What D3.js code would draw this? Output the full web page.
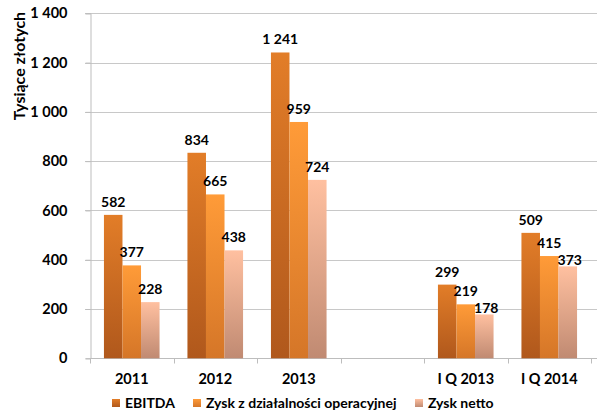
<!DOCTYPE html>
<html><head><meta charset="utf-8">
<script src="https://cdn.jsdelivr.net/npm/d3@7"></script>
<style>body{margin:0;background:#fff}svg{display:block}text{font-family:Lato,"Open Sans",sans-serif;font-weight:bold;fill:#000}</style>
</head><body><svg id="c" width="600" height="420"></svg>
<script>
const categories = ["2011","2012","2013","","I Q 2013","I Q 2014"];
const seriesNames = ["EBITDA","Zysk z działalności operacyjnej","Zysk netto"];
const ebitda = [582,834,1241,null,299,509];
const zyskOper = [377,665,959,null,219,415];
const zyskNetto = [228,438,724,null,178,373];
const yTicks = [0,200,400,600,800,1000,1200,1400];

const svg = d3.select("#c");
const m = {l:90, r:591, t:13.3, b:358.3};
const x = d3.scaleBand().domain(categories).range([m.l,m.r]).paddingInner(0.334).paddingOuter(0.167);
const xs = d3.scaleBand().domain([0,1,2]).range([0,x.bandwidth()]);
const y = d3.scaleLinear().domain([0,1400]).range([m.b,m.t]);
const fmt = v => d3.format(",")(v).replace(/,/g," ");

const defs = svg.append("defs");
const grads = [["#e27d28","#b0581c"],["#ff9b38","#d57628"],["#ffc0a0","#c08a72"]];
grads.forEach((g,i)=>{
  const lg = defs.append("linearGradient").attr("id","g"+i).attr("x1",0).attr("y1",0).attr("x2",0).attr("y2",1);
  lg.append("stop").attr("offset","0%").attr("stop-color",g[0]);
  lg.append("stop").attr("offset","100%").attr("stop-color",g[1]);
});

// grid
svg.append("g").selectAll("line").data(yTicks.slice(1)).join("line")
  .attr("x1",m.l-5).attr("x2",m.r+6).attr("y1",d=>Math.round(y(d))+0.5).attr("y2",d=>Math.round(y(d))+0.5)
  .attr("stroke","#c8c8c8");
// y axis
const ya = svg.append("g").attr("transform",`translate(${m.l+0.5},0)`)
  .call(d3.axisLeft(y).tickValues(yTicks).tickFormat(fmt).tickSize(5).tickPadding(18));
ya.select(".domain").attr("stroke","#bdbdbd");
ya.selectAll(".tick line").attr("stroke","#bdbdbd");
ya.selectAll("text").style("font-size","14.5px").attr("fill","#000");

// x axis
const xg = svg.append("g").attr("transform",`translate(0,${Math.round(m.b)+0.5})`);
xg.append("line").attr("x1",m.l).attr("x2",m.r+6).attr("stroke","#bdbdbd");
const step = x.step();
const bounds = d3.range(categories.length+1).map(i=>m.l+i*step);
xg.selectAll(".tk").data(bounds).join("line").attr("x1",d=>Math.round(d)+0.5).attr("x2",d=>Math.round(d)+0.5).attr("y1",0).attr("y2",5).attr("stroke","#bdbdbd");
xg.selectAll("text").data(categories).join("text")
  .attr("x",d=>m.l+categories.indexOf(d)*step+step/2).attr("y",25)
  .attr("text-anchor","middle").style("font-size","14.5px").text(d=>d);

const series = [ebitda,zyskOper,zyskNetto];
const labels = {};
series.forEach((vals,si)=>{
  const g = svg.append("g");
  const data = categories.map((c,i)=>({c,v:vals[i]})).filter(d=>d.v!=null);
  g.selectAll("rect").data(data).join("rect")
    .attr("x",d=>x(d.c)+xs(si)).attr("width",xs.bandwidth())
    .attr("y",d=>y(d.v)).attr("height",d=>y(0)-y(d.v))
    .attr("fill",`url(#g${si})`);
  g.selectAll("text").data(data).join("text")
    .attr("x",d=>x(d.c)+xs(si)+xs.bandwidth()/2).attr("y",d=>y(d.v)-8)
    .attr("text-anchor","middle").style("font-size","14px").text(d=>fmt(d.v))
    .each(function(d){ (labels[d.c] = labels[d.c]||[])[si] = {el:this,v:d.v}; });
});
// nudge colliding labels down onto their bar top (as in the reference)
const hit = (a,b)=>a.x<b.x+b.width && b.x<a.x+a.width && a.y<b.y+b.height && b.y<a.y+a.height;
Object.values(labels).forEach(arr=>{
  for(let i=1;i<arr.length;i++){
    if(!arr[i]||!arr[i-1]) continue;
    const a = arr[i-1].el.getBBox(), b = arr[i].el.getBBox();
    if(hit(a,b)){
      d3.select(arr[i].el).attr("y", y(arr[i].v)-1).attr("dx",2);
    }
  }
});

// y title
svg.append("text").attr("transform","translate(25,66) rotate(-90)").attr("text-anchor","middle")
  .style("font-size","16px").text("Tysiące złotych");

// legend
const legX = [112,193,415];
seriesNames.forEach((n,i)=>{
  svg.append("rect").attr("x",legX[i]).attr("y",399).attr("width",8).attr("height",8).attr("fill",`url(#g${i})`);
  svg.append("text").attr("x",legX[i]+13).attr("y",408).style("font-size","14px").text(n);
});
</script></body></html>
